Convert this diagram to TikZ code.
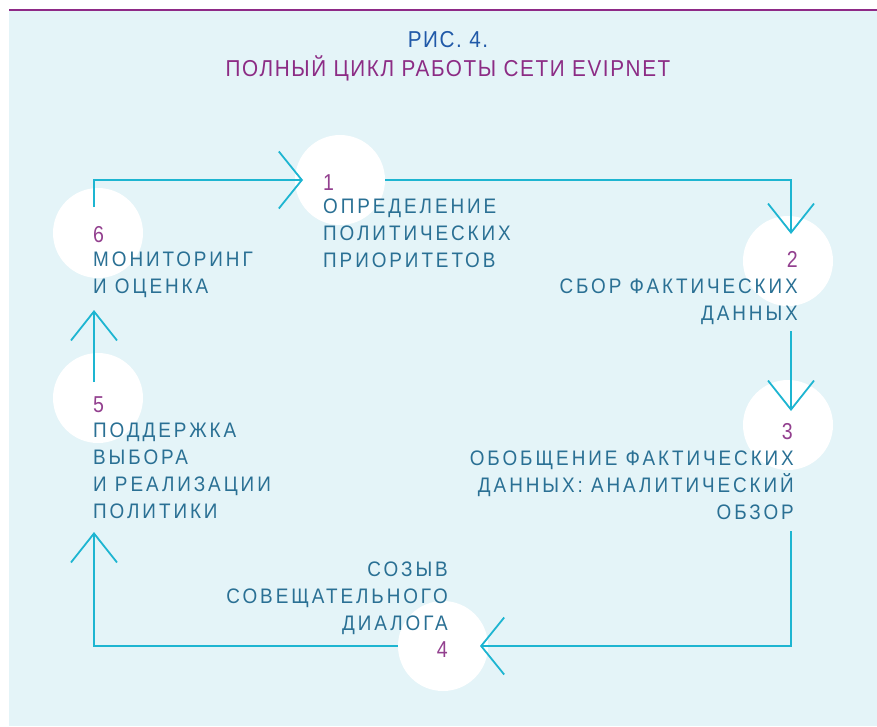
\documentclass[tikz,border=0pt]{standalone}
\usepackage{fontspec}
\setmainfont{Liberation Sans}
\newfontfamily\labelfont{Liberation Sans}[FakeStretch=0.9,LetterSpace=14]
\newfontfamily\numfont{Liberation Sans}[FakeStretch=0.85]
\newfontfamily\titlefont{Liberation Sans}[FakeStretch=0.9,LetterSpace=7]
\usetikzlibrary{arrows.meta}
\definecolor{bgblue}{HTML}{E4F4F8}
\definecolor{rulepurple}{HTML}{8E2A87}
\definecolor{cyanline}{HTML}{1DB5D1}
\definecolor{labtext}{HTML}{2A7094}
\definecolor{numpurple}{HTML}{93408F}
\definecolor{titleblue}{HTML}{2059A8}
\definecolor{titlepurple}{HTML}{8C2C85}
\begin{document}
\begin{tikzpicture}[x=1pt,y=-1pt,
  circ/.style={circle, fill=white, minimum size=90pt, inner sep=0pt},
  lab/.style={inner sep=0pt, text=labtext, font=\labelfont\fontsize{21}{27}\selectfont},
  num/.style={inner sep=0pt, text=numpurple, font=\numfont\fontsize{23}{27}\selectfont},
  link/.style={draw=cyanline, line width=1.8pt},
  hbarb/.style={-{Straight Barb[length=23pt,width=57pt]}},
  vbarb/.style={-{Straight Barb[length=29pt,width=46pt]}}]
\useasboundingbox (0,0) rectangle (877,726);
\fill[bgblue] (9,11) rectangle (877,726);
\draw[rulepurple, line width=1.6pt] (9,10) -- (877,10);

% title
\node (fig) at (448,47) [anchor=base, inner sep=0pt, text=titleblue, font=\titlefont\fontsize{23}{27}\selectfont] {РИС. 4.};
\node (title) at (448,76) [anchor=base, inner sep=0pt, text=titlepurple, font=\titlefont\fontsize{23}{27}\selectfont] {ПОЛНЫЙ ЦИКЛ РАБОТЫ СЕТИ EVIPNET};

% white discs
\node[circ] (c1) at (340,180) {};
\node[circ] (c2) at (788,261) {};
\node[circ] (c3) at (788,425) {};
\node[circ] (c4) at (443,646) {};
\node[circ] (c5) at (98,398) {};
\node[circ] (c6) at (98,233) {};

% line ends
\coordinate (s6) at (94,207);
\coordinate (e1) at (303,180);
\coordinate (e2) at (791,234);
\coordinate (s2) at (791,331);
\coordinate (e3) at (791,411);
\coordinate (s3) at (791,531);
\coordinate (e4) at (480,646);
\coordinate (e5) at (94,532);
\coordinate (s5) at (94,382);
\coordinate (e6) at (94,310);

\draw[link, hbarb] (s6) |- (e1);
\draw[link, vbarb] (c1.east) -| (e2);
\draw[link, vbarb] (s2) -- (e3);
\draw[link, hbarb] (s3) |- (e4);
\draw[link, vbarb] (c4.west) -| (e5);
\draw[link, vbarb] (s5) -- (e6);

% steps
\node[num, anchor=base west] (n1) at (323,190) {1};
\node[lab, anchor=north west, align=left] (t1) at (323,199) {ОПРЕДЕЛЕНИЕ\\ПОЛИТИЧЕСКИХ\\ПРИОРИТЕТОВ};
\node[num, anchor=base east] (n2) at (798,267) {2};
\node[lab, anchor=north east, align=right] (t2) at (798,279) {СБОР ФАКТИЧЕСКИХ\\ДАННЫХ};
\node[num, anchor=base east] (n3) at (793,439) {3};
\node[lab, anchor=north east, align=right] (t3) at (794,451) {ОБОБЩЕНИЕ ФАКТИЧЕСКИХ\\ДАННЫХ: АНАЛИТИЧЕСКИЙ\\ОБЗОР};
\node[lab, anchor=north east, align=right] (t4) at (448,562) {СОЗЫВ\\СОВЕЩАТЕЛЬНОГО\\ДИАЛОГА};
\node[num, anchor=base east] (n4) at (448,657) {4};
\node[num, anchor=base west] (n5) at (93,412) {5};
\node[lab, anchor=north west, align=left] (t5) at (93,423) {ПОДДЕРЖКА\\ВЫБОРА\\И РЕАЛИЗАЦИИ\\ПОЛИТИКИ};
\node[num, anchor=base west] (n6) at (93,242) {6};
\node[lab, anchor=north west, align=left] (t6) at (93,252) {МОНИТОРИНГ\\И ОЦЕНКА};
\end{tikzpicture}
\end{document}
